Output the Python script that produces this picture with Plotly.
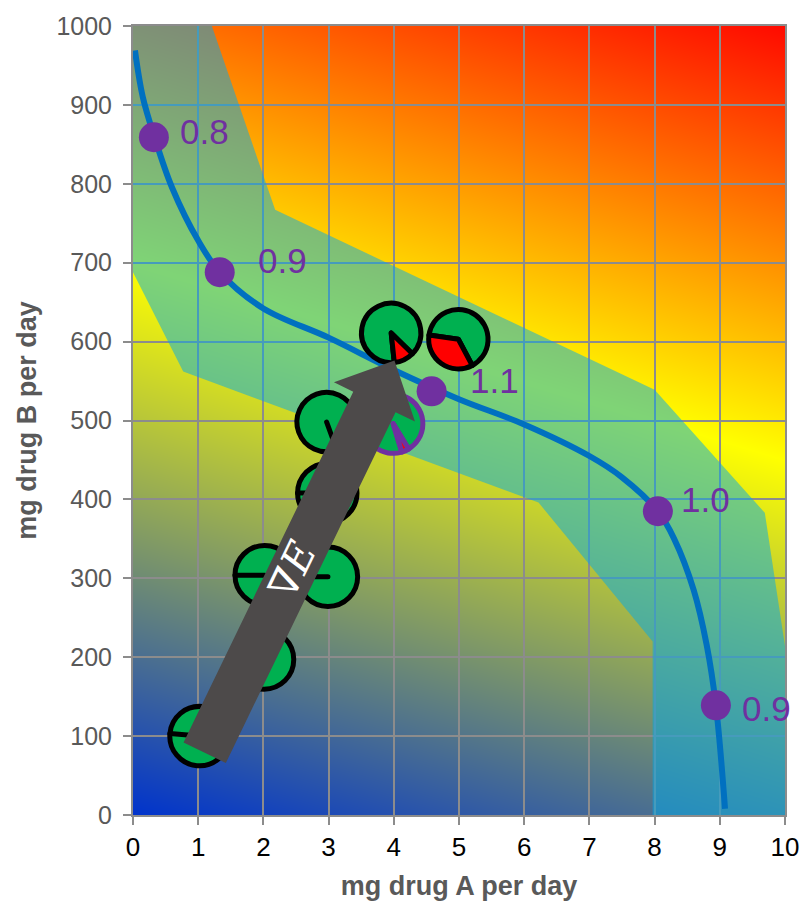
import math
import plotly.graph_objects as go

# ---------------- data ----------------
x_ticks = list(range(0, 11))
y_ticks = list(range(0, 1001, 100))

# iso-effect curve (mg A, mg B)
curve_x = [0.03, 0.15, 0.33, 0.6, 1.0, 1.33, 2.0, 3.0, 4.0, 5.0, 6.0, 7.0,
           7.5, 8.05, 8.3, 8.6, 8.8, 8.94, 9.08]
curve_y = [969, 910, 859, 795, 728, 688, 642, 605, 564, 527, 495, 455,
           428, 385, 350, 285, 215, 139, 8]

# labelled points on the curve
point_x = [0.32, 1.33, 4.58, 8.05, 8.94]
point_y = [859, 688, 537, 385, 139]
point_text = ["0.8", "0.9", "1.1", "1.0", "0.9"]

# acceptable-dose band
band_x = [0, 1.21, 2.18, 8.0, 9.69, 10, 10, 7.97, 7.97, 6.22, 0.77, 0]
band_y = [1000, 1000, 767, 539, 383, 214, 0, 0, 220, 396, 562, 688]

# trial doses shown as pies (red share = adverse fraction)
pie_x = [1.02, 2.01, 2.02, 2.99, 2.98, 2.97, 3.99, 3.96, 4.99]
pie_y = [100, 197, 304, 302, 408, 498, 496, 611, 603]
pie_red = [0, 0, 0, 0, 0, 0, 0.04, 0.11, 0.35]
pie_red_end = [275, 270, 270, 270, 270, 160, 163, 174, 278]   # deg clockwise from 12 o'clock
pie_edge = ["#000000"] * 6 + ["#7030A0", "#000000", "#000000"]

# gradient direction arrow
arrow_tail = (1.10, 84)
arrow_tip = (4.01, 576)
arrow_text = "∇<i>E</i>"

# ---------------- layout constants ----------------
FIG_W, FIG_H = 812, 908
M_L, M_R, M_T, M_B = 133, 27, 20, 91
PLOT_W = FIG_W - M_L - M_R
PLOT_H = FIG_H - M_T - M_B
X_MAX, Y_MAX = 10, 1000

GRID = "#8C8C8C"
PURPLE = "#7030A0"
GREEN = "#00B050"

# background gradient: blue -> yellow -> red, tilted slightly off vertical
tilt = math.radians(17)
span = PLOT_W * math.sin(tilt) + PLOT_H * math.cos(tilt)
def grad(xv, yv):
    return (xv / X_MAX * PLOT_W * math.sin(tilt) + yv / Y_MAX * PLOT_H * math.cos(tilt)) / span

gx = [0, X_MAX]
gy = [0, Y_MAX]
gz = [[grad(xv, yv) for xv in gx] for yv in gy]

fig = go.Figure()

fig.add_trace(go.Heatmap(
    x=gx, y=gy, z=gz, zmin=0, zmax=1, zsmooth="best",
    colorscale=[[0, "#0033CC"], [0.56, "#FFFF00"], [1, "#FF0A00"]],
    showscale=False, hoverinfo="skip", xaxis="x", yaxis="y",
))

fig.add_trace(go.Scatter(
    x=band_x, y=band_y, fill="toself", mode="lines",
    fillcolor="rgba(0,170,235,0.5)", line=dict(width=0),
    hoverinfo="skip", showlegend=False, xaxis="x2", yaxis="y2",
))

fig.add_trace(go.Scatter(
    x=curve_x, y=curve_y, mode="lines",
    line=dict(color="#0070C0", width=6, shape="spline", smoothing=1.0),
    hoverinfo="skip", showlegend=False, xaxis="x2", yaxis="y2",
))

fig.add_trace(go.Scatter(
    x=point_x, y=point_y, mode="markers",
    marker=dict(color=PURPLE, size=30, line=dict(width=0)),
    hoverinfo="skip", showlegend=False, xaxis="x2", yaxis="y2",
))

# pies positioned at their dose coordinates; the red slice comes last so
# its border stays visible even when the slice is empty
PIE_R = 30
for px, py, red, end, edge in zip(pie_x, pie_y, pie_red, pie_red_end, pie_edge):
    cx = px / X_MAX
    cy = py / Y_MAX
    fig.add_trace(go.Pie(
        values=[1 - red, red], labels=["ok", "adverse"],
        marker=dict(colors=[GREEN, "#FF0000"], line=dict(color=edge, width=5)),
        rotation=end, direction="clockwise", sort=False,
        textinfo="none", hoverinfo="skip", showlegend=False,
        domain=dict(x=[cx - PIE_R / PLOT_W, cx + PIE_R / PLOT_W],
                    y=[cy - PIE_R / PLOT_H, cy + PIE_R / PLOT_H]),
    ))

# block arrow drawn in pixel space, anchored at its tip
dxp = (arrow_tip[0] - arrow_tail[0]) * PLOT_W / X_MAX
dyp = (arrow_tip[1] - arrow_tail[1]) * PLOT_H / Y_MAX
length = math.hypot(dxp, dyp)
ux, uy = dxp / length, dyp / length
nx, ny = -uy, ux
SHAFT, HEAD_W, HEAD_L = 23.5, 45, 46
def pt(a, b):
    return (a * ux + b * nx, a * uy + b * ny)
outline = [pt(0, 0), pt(-HEAD_L, HEAD_W), pt(-HEAD_L, SHAFT), pt(-length, SHAFT),
           pt(-length, -SHAFT), pt(-HEAD_L, -SHAFT), pt(-HEAD_L, -HEAD_W)]
path = "M " + " L ".join(f"{a:.1f},{b:.1f}" for a, b in outline) + " Z"
fig.add_shape(type="path", path=path, xref="x2", yref="y2",
              xsizemode="pixel", ysizemode="pixel",
              xanchor=arrow_tip[0], yanchor=arrow_tip[1],
              fillcolor="#4D4A4A", line=dict(width=0), layer="above")

angle = math.degrees(math.atan2(dyp, dxp))
f = 0.46
fig.add_annotation(
    x=arrow_tail[0] + f * (arrow_tip[0] - arrow_tail[0]),
    y=arrow_tail[1] + f * (arrow_tip[1] - arrow_tail[1]),
    xref="x2", yref="y2", text=arrow_text, showarrow=False, textangle=-angle,
    font=dict(family="DejaVu Serif", size=40, color="white"),
)

# value labels next to the curve points
label_dx = [24, 36, 36, 21, 24]
label_dy = [6, 12, 11, 12, -3]
for xv, yv, txt, ddx, ddy in zip(point_x, point_y, point_text, label_dx, label_dy):
    fig.add_annotation(
        x=xv, y=yv, xref="x2", yref="y2", text=txt, showarrow=False,
        xanchor="left", yanchor="middle", xshift=ddx, yshift=ddy,
        font=dict(family="Liberation Sans, Arial, sans-serif", size=35, color=PURPLE),
    )

axis_common = dict(
    showgrid=True, gridcolor=GRID, gridwidth=2, zeroline=False,
    showline=True, linecolor=GRID, linewidth=2, mirror=True,
    ticks="outside", ticklen=8, tickwidth=2, tickcolor=GRID,
)
title_font = dict(family="Liberation Sans, Arial, sans-serif", size=27,
                  color="#595959", weight="bold")

fig.update_layout(
    width=FIG_W, height=FIG_H,
    margin=dict(l=M_L, r=M_R, t=M_T, b=M_B),
    paper_bgcolor="white", plot_bgcolor="rgba(0,0,0,0)",
    showlegend=False,
    xaxis=dict(domain=[0, 1], range=[0, X_MAX], visible=False, anchor="y"),
    yaxis=dict(domain=[0, 1], range=[0, Y_MAX], visible=False, anchor="x"),
    xaxis2=dict(domain=[0, 1], range=[0, X_MAX], anchor="y2",
                tickvals=x_ticks, ticktext=[str(v) for v in x_ticks],
                tickfont=dict(family="Liberation Sans, Arial, sans-serif",
                              size=26, color="black"),
                title=dict(text="mg drug A per day", font=title_font, standoff=15),
                **axis_common),
    yaxis2=dict(domain=[0, 1], range=[0, Y_MAX], anchor="x2",
                tickvals=y_ticks, ticktext=[str(v) for v in y_ticks],
                tickfont=dict(family="Liberation Sans, Arial, sans-serif",
                              size=25, color="#595959"),
                ticklabelstandoff=6,
                title=dict(text="mg drug B per day", font=title_font, standoff=12),
                **axis_common),
)

fig.write_html("out.html")
